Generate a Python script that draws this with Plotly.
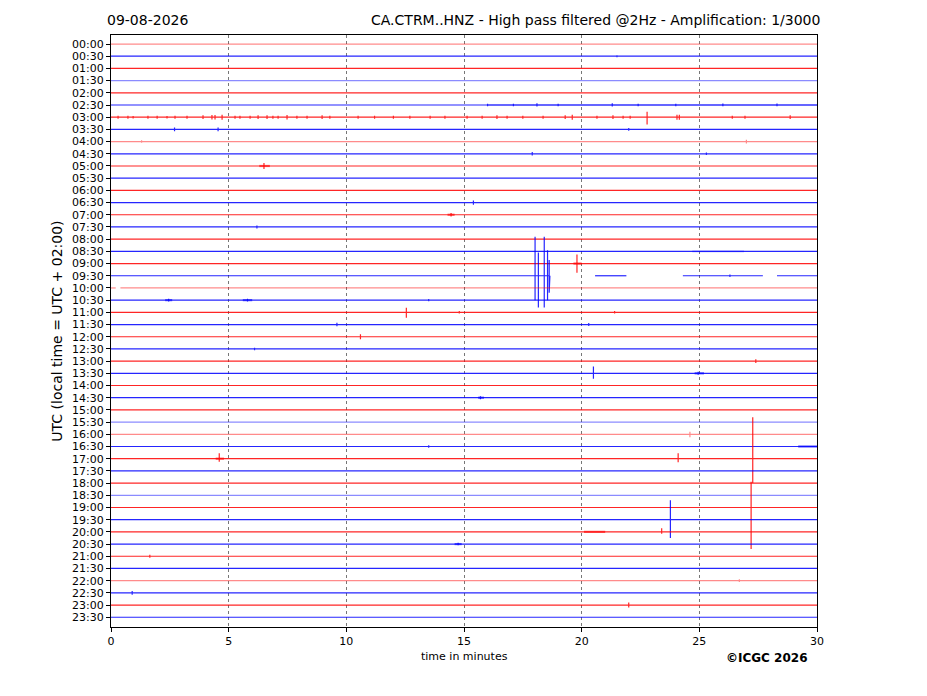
import plotly.graph_objects as go

row_labels = ["00:00", "00:30", "01:00", "01:30", "02:00", "02:30", "03:00", "03:30",
              "04:00", "04:30", "05:00", "05:30", "06:00", "06:30", "07:00", "07:30",
              "08:00", "08:30", "09:00", "09:30", "10:00", "10:30", "11:00", "11:30",
              "12:00", "12:30", "13:00", "13:30", "14:00", "14:30", "15:00", "15:30",
              "16:00", "16:30", "17:00", "17:30", "18:00", "18:30", "19:00", "19:30",
              "20:00", "20:30", "21:00", "21:30", "22:00", "22:30", "23:00", "23:30"]

# spikes: (row, minute, up, down) in units of row spacing
spikes = [
    ("00:30", 21.5, 0.08, 0.08),
    ("02:30", 16.0, 0.1, 0.1), ("02:30", 17.1, 0.1, 0.1), ("02:30", 18.1, 0.15, 0.12),
    ("02:30", 19.0, 0.1, 0.1), ("02:30", 21.3, 0.15, 0.12), ("02:30", 22.4, 0.1, 0.1),
    ("02:30", 24.0, 0.1, 0.1), ("02:30", 26.0, 0.12, 0.1), ("02:30", 28.3, 0.12, 0.1),
    ("03:00", 0.3, 0.12, 0.12), ("03:00", 0.72, 0.12, 0.12), ("03:00", 0.94, 0.1, 0.1),
    ("03:00", 1.57, 0.12, 0.12), ("03:00", 1.96, 0.12, 0.12), ("03:00", 2.38, 0.1, 0.1),
    ("03:00", 2.72, 0.12, 0.12), ("03:00", 3.23, 0.12, 0.12), ("03:00", 3.91, 0.15, 0.15),
    ("03:00", 4.29, 0.18, 0.18), ("03:00", 4.42, 0.18, 0.18), ("03:00", 4.72, 0.2, 0.2),
    ("03:00", 5.27, 0.12, 0.12), ("03:00", 5.48, 0.12, 0.12), ("03:00", 5.91, 0.12, 0.12),
    ("03:00", 6.25, 0.15, 0.15), ("03:00", 6.63, 0.15, 0.15), ("03:00", 6.88, 0.12, 0.12),
    ("03:00", 7.1, 0.12, 0.12), ("03:00", 7.48, 0.18, 0.18), ("03:00", 7.9, 0.12, 0.12),
    ("03:00", 8.33, 0.12, 0.12), ("03:00", 8.97, 0.15, 0.15), ("03:00", 9.3, 0.12, 0.12),
    ("03:00", 10.5, 0.12, 0.12), ("03:00", 11.2, 0.12, 0.12), ("03:00", 12.0, 0.12, 0.12),
    ("03:00", 12.7, 0.12, 0.12), ("03:00", 13.56, 0.12, 0.12), ("03:00", 14.19, 0.12, 0.12),
    ("03:00", 15.13, 0.12, 0.12), ("03:00", 15.77, 0.12, 0.12), ("03:00", 16.4, 0.15, 0.15),
    ("03:00", 16.83, 0.12, 0.12), ("03:00", 17.5, 0.12, 0.12), ("03:00", 18.36, 0.12, 0.12),
    ("03:00", 19.3, 0.15, 0.15), ("03:00", 19.6, 0.2, 0.2), ("03:00", 20.65, 0.12, 0.12),
    ("03:00", 21.33, 0.15, 0.15), ("03:00", 21.76, 0.12, 0.12), ("03:00", 22.06, 0.12, 0.12),
    ("03:00", 22.78, 0.45, 0.6), ("03:00", 24.05, 0.2, 0.2), ("03:00", 24.15, 0.2, 0.2),
    ("03:00", 26.4, 0.12, 0.12), ("03:00", 26.94, 0.12, 0.12), ("03:00", 28.86, 0.15, 0.15),
    ("03:30", 2.7, 0.15, 0.15), ("03:30", 4.55, 0.15, 0.15), ("03:30", 22.0, 0.12, 0.12),
    ("04:00", 1.3, 0.1, 0.1), ("04:00", 27.0, 0.15, 0.15),
    ("04:30", 17.9, 0.15, 0.15), ("04:30", 25.3, 0.1, 0.1),
    ("05:00", 6.5, 0.25, 0.25),
    ("06:30", 15.4, 0.18, 0.18),
    ("07:00", 14.45, 0.15, 0.15),
    ("07:30", 6.2, 0.12, 0.12),
    ("09:00", 19.8, 0.75, 0.75),
    ("09:30", 18.02, 3.2, 2.0), ("09:30", 18.16, 1.9, 2.6), ("09:30", 18.41, 3.2, 2.6),
    ("09:30", 18.55, 2.1, 2.0), ("09:30", 18.62, 1.3, 1.4), ("09:30", 26.3, 0.1, 0.1),
    ("10:30", 2.45, 0.12, 0.12), ("10:30", 5.8, 0.12, 0.12), ("10:30", 13.5, 0.1, 0.1),
    ("11:00", 12.55, 0.37, 0.45), ("11:00", 14.8, 0.1, 0.1), ("11:00", 21.4, 0.1, 0.1),
    ("11:30", 9.6, 0.15, 0.15), ("11:30", 20.3, 0.12, 0.12),
    ("12:00", 10.6, 0.2, 0.2),
    ("12:30", 6.1, 0.1, 0.1),
    ("13:00", 27.4, 0.15, 0.15),
    ("13:30", 20.5, 0.55, 0.45), ("13:30", 24.95, 0.12, 0.12),
    ("14:30", 15.7, 0.12, 0.12),
    ("16:00", 24.6, 0.2, 0.25),
    ("16:30", 13.5, 0.1, 0.1),
    ("17:00", 4.6, 0.45, 0.25), ("17:00", 24.1, 0.45, 0.3), ("17:00", 27.27, 3.4, 2.0),
    ("19:00", 27.2, 2.1, 3.4),
    ("19:30", 23.77, 1.6, 1.5),
    ("20:00", 23.4, 0.3, 0.15),
    ("20:30", 14.75, 0.1, 0.1),
    ("21:00", 1.65, 0.12, 0.12),
    ("22:00", 26.7, 0.12, 0.12),
    ("22:30", 0.9, 0.15, 0.15),
    ("23:00", 22.0, 0.2, 0.2),
]

# short noisy stretches: (row, start minute, end minute)
bursts = [
    ("02:30", 16.0, 30.0),
    ("05:00", 6.3, 6.75),
    ("07:00", 14.3, 14.6),
    ("08:30", 24.7, 26.9),
    ("09:00", 19.65, 20.0),
    ("10:30", 2.3, 2.6),
    ("10:30", 5.6, 6.0),
    ("13:30", 24.8, 25.2),
    ("14:30", 15.6, 15.85),
    ("16:30", 29.2, 30.0),
    ("17:00", 4.45, 4.8),
    ("20:00", 20.1, 21.0),
    ("20:30", 14.6, 14.9),
]

# recorded stretches for rows with data gaps
segments = {
    "09:30": [(0, 18.65), (20.57, 21.9), (24.3, 27.7), (28.3, 30)],
    "10:00": [(0, 0.2), (0.4, 30)],
}

faint_rows = ["10:00", "18:30", "16:00", "01:30", "15:30", "00:00", "22:00", "04:00"]

fig = go.Figure()

for i, lab in enumerate(row_labels):
    color = "#ff0000" if i % 2 == 0 else "#0000ff"
    op = 0.45 if lab in faint_rows else 0.85
    xs, ys = [], []
    for a, b in segments.get(lab, [(0, 30)]):
        xs.append(a)
        ys.append(i)
        for r, t, up, down in sorted([s for s in spikes if s[0] == lab], key=lambda s: s[1]):
            if a <= t <= b:
                xs += [t, t, t, t]
                ys += [i, i - up, i + down, i]
        xs.append(b)
        ys.append(i)
        xs.append(None)
        ys.append(None)
    fig.add_trace(go.Scatter(x=xs, y=ys, mode="lines", opacity=op,
                             line=dict(color=color, width=1.2), hoverinfo="skip"))
    bx, by = [], []
    for r, a, b in bursts:
        if r == lab:
            bx += [a, b, None]
            by += [i, i, None]
    if bx:
        long_one = any(b - a > 2 for r, a, b in bursts if r == lab)
        fig.add_trace(go.Scatter(x=bx, y=by, mode="lines",
                                 opacity=0.3 if long_one else 0.6,
                                 line=dict(color=color, width=1.8 if long_one else 2.2),
                                 hoverinfo="skip"))

font = "DejaVu Sans"
fig.update_layout(
    width=927, height=696,
    margin=dict(l=103, r=118, t=27, b=77),
    paper_bgcolor="white", plot_bgcolor="white",
    showlegend=False,
    font=dict(family=font, size=11, color="black"),
    xaxis=dict(range=[0, 30], tickvals=[0, 5, 10, 15, 20, 25, 30],
               showgrid=True, griddash="dot", gridcolor="#777", gridwidth=0.7,
               showline=True, linecolor="black", linewidth=1, mirror=True,
               ticks="outside", ticklen=4, tickcolor="black", zeroline=False),
    yaxis=dict(range=[47.8, -0.74], tickvals=list(range(len(row_labels))),
               ticktext=row_labels, showgrid=False,
               showline=True, linecolor="black", linewidth=1, mirror=True,
               ticks="outside", ticklen=4, tickcolor="black", zeroline=False),
    annotations=[
        dict(text="09-08-2026", xref="paper", yref="paper", x=-0.009, y=1.026,
             xanchor="left", yanchor="middle", showarrow=False, font=dict(size=14)),
        dict(text="CA.CTRM..HNZ - High pass filtered @2Hz - Amplification: 1/3000",
             xref="paper", yref="paper", x=1.007, y=1.026,
             xanchor="right", yanchor="middle", showarrow=False, font=dict(size=14)),
        dict(text="UTC (local time = UTC + 02:00)", xref="paper", yref="paper",
             x=-0.077, y=0.5, textangle=-90, xanchor="center", yanchor="middle",
             showarrow=False, font=dict(size=14)),
        dict(text="time in minutes", xref="paper", yref="paper", x=0.5, y=-0.049,
             xanchor="center", yanchor="middle", showarrow=False, font=dict(size=11)),
        dict(text="<b>©ICGC 2026</b>", xref="paper", yref="paper", x=0.99, y=-0.053,
             xanchor="right", yanchor="middle", showarrow=False, font=dict(size=12)),
    ],
)

fig.write_html("out.html")
